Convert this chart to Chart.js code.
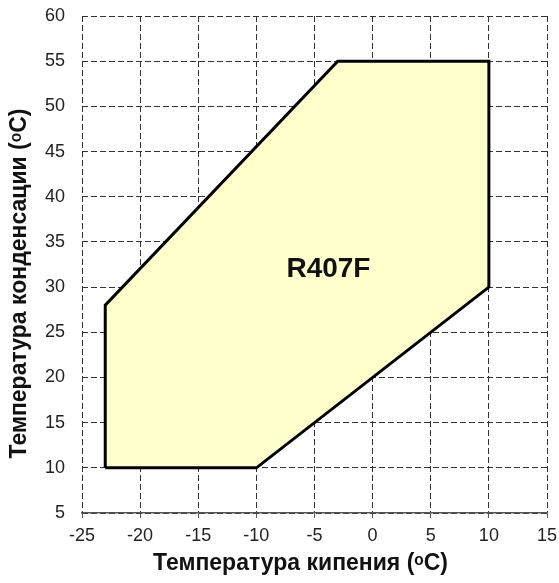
<!DOCTYPE html>
<html>
<head>
<meta charset="utf-8">
<script src="https://cdn.jsdelivr.net/npm/chart.js@4"></script>
<style>
  html, body { margin: 0; padding: 0; background: #fff; }
  #wrap { width: 559px; height: 583px; }
</style>
</head>
<body>
<div id="wrap"><canvas id="c"></canvas></div>
<script>
// envelope corners (evaporating temp, condensing temp)
const evapT = [-23, -23, -3, 10, 10, -10, -23];
const condT = [10, 28, 55, 55, 30, 10, 10];
const refrigerant = 'R407F';
const labelX = -3.8;
const labelY = 32;

const xTitle = 'Температура кипения (ᵒC)';
const yTitle = 'Температура конденсации (ᵒC)';

const GRID = '#333';
const DASH = [6, 3];
const FONT = '"Liberation Sans", Arial, sans-serif';

// refrigerant name + axis titles (titles sit a bit off-centre in the original)
const textPlugin = {
  id: 'texts',
  afterDatasetsDraw(chart) {
    const { ctx, scales, chartArea: a } = chart;
    ctx.save();
    ctx.fillStyle = '#111';
    ctx.textAlign = 'center';
    ctx.textBaseline = 'middle';
    ctx.font = 'bold 28px ' + FONT;
    ctx.fillText(refrigerant, scales.x.getPixelForValue(labelX), scales.y.getPixelForValue(labelY));

    ctx.font = 'bold 23px ' + FONT;
    ctx.fillText(xTitle, (a.left + a.right) / 2 - 14, chart.height - 19);
    ctx.translate(20, (a.top + a.bottom) / 2 + 19);
    ctx.rotate(-Math.PI / 2);
    ctx.fillText(yTitle, 0, 0);
    ctx.restore();
  }
};

new Chart(document.getElementById('c'), {
  type: 'scatter',
  data: {
    datasets: [{
      data: evapT.map((x, i) => ({ x, y: condT[i] })),
      showLine: true,
      fill: 'shape',
      backgroundColor: '#ffffcc',
      borderColor: '#000',
      borderWidth: 3,
      borderJoinStyle: 'miter',
      pointRadius: 0,
      tension: 0,
    }],
  },
  options: {
    responsive: true,
    maintainAspectRatio: false,
    animation: false,
    layout: { padding: { top: 16, right: 12, left: 0, bottom: 0 } },
    plugins: { legend: { display: false }, tooltip: { enabled: false } },
    scales: {
      x: {
        type: 'linear',
        min: -25,
        max: 15,
        afterFit: s => { s.height = 70; s.paddingLeft = 0; s.paddingRight = 0; },
        ticks: { stepSize: 5, color: '#222', padding: 7, font: { family: FONT, size: 18 } },
        grid: { color: GRID, tickLength: 5, tickColor: '#555' },
        border: { display: true, color: '#555', width: 1.5, dash: DASH },
      },
      y: {
        type: 'linear',
        min: 5,
        max: 60,
        afterFit: s => { s.width = 82; s.paddingTop = 0; s.paddingBottom = 0; },
        ticks: { stepSize: 5, color: '#222', padding: 17, font: { family: FONT, size: 18 } },
        grid: { color: GRID, drawTicks: false },
        border: { display: false, dash: DASH },
      },
    },
  },
  plugins: [textPlugin],
});
</script>
</body>
</html>
